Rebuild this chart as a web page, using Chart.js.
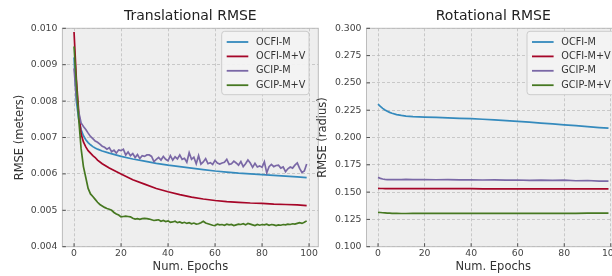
<!DOCTYPE html>
<html>
<head>
<meta charset="utf-8">
<script src="https://cdn.jsdelivr.net/npm/chart.js@4.4.0/dist/chart.umd.min.js"></script>
<style>
  html, body { margin: 0; padding: 0; background: #fff; overflow: hidden; }
  #wrap { position: relative; width: 612px; height: 276px; overflow: hidden; }
  canvas { position: absolute; top: 0; }
  #transChart { left: 0; }
  #rotChart { left: 310px; }
</style>
</head>
<body>
<div id="wrap">
  <canvas id="transChart" width="320" height="276"></canvas>
  <canvas id="rotChart" width="320" height="276"></canvas>
</div>
<script>
const seriesNames = ['OCFI-M', 'OCFI-M+V', 'GCIP-M', 'GCIP-M+V'];
const seriesColors = ['#348ABD', '#A60628', '#7A68A6', '#467821'];
const xTicks = [0, 20, 40, 60, 80, 100];
const transTicks = [0.004, 0.005, 0.006, 0.007, 0.008, 0.009, 0.010];
const rotTicks = [0.100, 0.125, 0.150, 0.175, 0.200, 0.225, 0.250, 0.275, 0.300];

// every epoch 0..99
const allEpochs = [];
for (let e = 0; e < 100; e++) allEpochs.push(e);

// smooth curves read at fewer epochs
const transEpochs = [0, 1, 2, 3, 4, 5, 6, 7, 8, 9, 10, 12, 15, 20, 25, 30, 35, 40, 45, 50, 55, 60, 65, 70, 75, 80, 85, 90, 95, 99];
const transOcfiM = [0.0092, 0.0080, 0.0075, 0.00722, 0.00705, 0.00694, 0.00686, 0.0068, 0.00675, 0.00671, 0.00668, 0.00663, 0.00657, 0.00648, 0.00641, 0.00635, 0.00629, 0.00624, 0.0062, 0.00616, 0.00612, 0.00608, 0.00605, 0.00602, 0.006, 0.00598, 0.00596, 0.00594, 0.00592, 0.0059];
const transOcfiMV = [0.0099, 0.0086, 0.0077, 0.0071, 0.00688, 0.00674, 0.00664, 0.00657, 0.0065, 0.00645, 0.00638, 0.00628, 0.00616, 0.006, 0.00584, 0.00572, 0.0056, 0.00551, 0.00543, 0.00536, 0.00531, 0.00527, 0.00524, 0.00522, 0.0052, 0.00519, 0.00517, 0.00516, 0.00515, 0.00513];
const transGcipM = [
  0.0089, 0.0081, 0.0077, 0.0074, 0.0073, 0.00722, 0.00712, 0.00703, 0.00697, 0.0069,
  0.00687, 0.00682, 0.00676, 0.00673, 0.00668, 0.00672, 0.00661, 0.00665, 0.00657, 0.00666,
  0.00664, 0.00668, 0.00652, 0.0066, 0.0065, 0.00656, 0.00645, 0.00653, 0.00642, 0.0065,
  0.00648, 0.00652, 0.00652, 0.00648, 0.00634, 0.0064, 0.00645, 0.00638, 0.00648, 0.0064,
  0.00636, 0.0065, 0.00638, 0.00647, 0.00641, 0.00652, 0.0064, 0.00643, 0.00632, 0.00658,
  0.0064, 0.00646, 0.00628, 0.0065, 0.00627, 0.00633, 0.00642, 0.00628, 0.00631, 0.00626,
  0.00637, 0.0063, 0.00627, 0.0063, 0.00632, 0.0064, 0.00626, 0.00628, 0.00635, 0.0063,
  0.00624, 0.00634, 0.0062, 0.00628, 0.00638, 0.0063, 0.00618, 0.00629, 0.00619, 0.00622,
  0.00618, 0.00633, 0.00603, 0.0062, 0.00626, 0.0062, 0.00623, 0.00624, 0.00616, 0.00619,
  0.00606, 0.00614, 0.00619, 0.00616, 0.00624, 0.0063, 0.00615, 0.00604, 0.00608, 0.00627
];
const transGcipMV = [
  0.0095, 0.0085, 0.0075, 0.0067, 0.0062, 0.0059, 0.0056, 0.00545, 0.00538, 0.0053,
  0.00522, 0.00516, 0.00512, 0.00508, 0.00505, 0.00503, 0.005, 0.00494, 0.0049, 0.00487,
  0.00482, 0.00483, 0.00484, 0.00483, 0.00482, 0.00478, 0.00476, 0.00477, 0.00475, 0.00477,
  0.00478, 0.00477, 0.00476, 0.00474, 0.00472, 0.00473, 0.00474, 0.0047, 0.00472, 0.00469,
  0.00471, 0.00467, 0.00468, 0.0047, 0.00466, 0.00468, 0.00465, 0.00467, 0.00464, 0.00466,
  0.00463, 0.00465, 0.00462, 0.00463, 0.00466, 0.0047, 0.00465, 0.00463, 0.00461, 0.00459,
  0.00458, 0.00462, 0.0046, 0.00461, 0.00459, 0.00462, 0.0046, 0.00461, 0.00458, 0.0046,
  0.00462, 0.00461, 0.00463, 0.0046, 0.00464, 0.00462, 0.0046, 0.00458, 0.00461, 0.00459,
  0.00461, 0.0046, 0.00462, 0.00459, 0.00461, 0.0046, 0.00458, 0.0046, 0.00459, 0.00461,
  0.0046, 0.00462, 0.00461, 0.00463, 0.00462, 0.00464, 0.00466, 0.00464, 0.00467, 0.00471
];

const rotEpochs = [0, 1, 2, 3, 4, 5, 6, 8, 10, 12, 15, 20, 25, 30, 35, 40, 45, 50, 55, 60, 65, 70, 75, 80, 85, 90, 95, 99];
const rotOcfiM = [0.2305, 0.2285, 0.2267, 0.2252, 0.224, 0.223, 0.2222, 0.221, 0.2202, 0.2196, 0.2191, 0.2187, 0.2184, 0.218, 0.2176, 0.2172, 0.2167, 0.2162, 0.2155, 0.2147, 0.214, 0.2132, 0.2124, 0.2116, 0.2108, 0.2099, 0.2091, 0.2085];
const rotOcfiMV = [0.1534, 0.1533, 0.1533, 0.1532, 0.1532, 0.1532, 0.1532, 0.1532, 0.1532, 0.1532, 0.1532, 0.1531, 0.1531, 0.1531, 0.1531, 0.1531, 0.153, 0.153, 0.153, 0.153, 0.153, 0.153, 0.153, 0.1529, 0.1529, 0.1529, 0.1529, 0.1529];
const rotGcipM = [0.1635, 0.1626, 0.162, 0.1617, 0.1615, 0.1614, 0.1614, 0.1615, 0.1614, 0.1616, 0.1614, 0.1615, 0.1613, 0.1615, 0.1612, 0.1613, 0.1611, 0.1612, 0.161, 0.1611, 0.1608, 0.161, 0.1607, 0.1609, 0.1604, 0.1606, 0.1601, 0.16];
const rotGcipMV = [0.1315, 0.1313, 0.1311, 0.131, 0.1308, 0.1307, 0.1306, 0.1305, 0.1304, 0.1304, 0.1305, 0.1305, 0.1305, 0.1305, 0.1306, 0.1306, 0.1306, 0.1306, 0.1306, 0.1306, 0.1306, 0.1306, 0.1306, 0.1306, 0.1306, 0.1307, 0.1307, 0.1307];

const FONT = 'DejaVu Sans';

function points(xs, ys) {
    return ys.map((y, i) => ({x: xs[i], y: y}));
}

// axes background, spines, inward ticks and the boxed legend
const bmhPlugin = {
    id: 'bmh',
    beforeDraw(chart) {
        const {ctx, chartArea: a} = chart;
        ctx.save();
        ctx.fillStyle = '#eeeeee';
        ctx.fillRect(a.left, a.top, a.right - a.left, a.bottom - a.top);
        ctx.restore();
    },
    afterDatasetsDraw(chart, args, opts) {
        const {ctx, chartArea: a} = chart;
        ctx.save();
        ctx.strokeStyle = '#bcbcbc';
        ctx.lineWidth = 1;
        ctx.strokeRect(a.left, a.top, a.right - a.left, a.bottom - a.top);

        ctx.strokeStyle = '#444';
        ctx.lineWidth = 0.9;
        let xs = chart.scales.x, ys = chart.scales.y;
        ctx.beginPath();
        xs.ticks.forEach(t => {
            let p = xs.getPixelForValue(t.value);
            ctx.moveTo(p, a.bottom);
            ctx.lineTo(p, a.bottom - 3.5);
        });
        ys.ticks.forEach(t => {
            let p = ys.getPixelForValue(t.value);
            ctx.moveTo(a.left, p);
            ctx.lineTo(a.left + 3.5, p);
        });
        ctx.stroke();

        // legend
        let w = 87.3, h = 63.4;
        let bx = a.right - opts.rightGap - w, by = a.top + 3;
        ctx.beginPath();
        ctx.roundRect(bx, by, w, h, 3);
        ctx.fillStyle = 'rgba(243,243,243,0.92)';
        ctx.fill();
        ctx.strokeStyle = '#cccccc';
        ctx.lineWidth = 1;
        ctx.stroke();
        ctx.font = '9.7px "' + FONT + '"';
        ctx.textBaseline = 'middle';
        ctx.textAlign = 'left';
        seriesNames.forEach((name, i) => {
            let ry = by + 10.7 + i * 14.4;
            ctx.strokeStyle = seriesColors[i];
            ctx.lineWidth = 1.8;
            ctx.beginPath();
            ctx.moveTo(bx + 5, ry);
            ctx.lineTo(bx + 26.6, ry);
            ctx.stroke();
            ctx.fillStyle = '#333';
            ctx.fillText(name, bx + 34.3, ry);
        });
        ctx.restore();
    }
};

function displayChart(id, title, yLabel, xsList, ysList, yMin, yMax, yTicks, yWidth, yTitlePad, padRight, legendGap) {
    let ctx = document.getElementById(id).getContext('2d');

    let datasets = ysList.map((ys, i) => ({
        label: seriesNames[i],
        data: points(xsList[i], ys),
        borderColor: seriesColors[i],
        borderWidth: 1.7,
        pointRadius: 0,
        tension: 0,
        fill: false,
        order: 4 - i,
    }));

    let gridOpts = {
        color: 'rgba(178,178,178,0.8)',
        lineWidth: 0.8,
        drawTicks: false,
    };

    return new Chart(ctx, {
        type: 'line',
        data: {datasets: datasets},
        plugins: [bmhPlugin],
        options: {
            responsive: false,
            animation: false,
            layout: {padding: {left: 0, top: 0, right: padRight, bottom: 0}},
            plugins: {
                legend: {display: false},
                tooltip: {enabled: false},
                bmh: {rightGap: legendGap},
                title: {
                    display: true,
                    fullSize: false,
                    text: title,
                    color: '#222',
                    font: {family: FONT, size: 14, weight: 'normal'},
                    padding: {top: 8.3, bottom: 3.2},
                },
            },
            scales: {
                x: {
                    type: 'linear',
                    min: -4.95,
                    max: 103.95,
                    afterBuildTicks: (s) => { s.ticks = xTicks.map(v => ({value: v})); },
                    afterFit: (s) => { s.height = 29.3; },
                    grid: gridOpts,
                    border: {display: false, dash: [3, 2]},
                    ticks: {
                        color: '#444',
                        padding: 1,
                        maxRotation: 0,
                        autoSkip: false,
                        font: {family: FONT, size: 9.3},
                        callback: (v) => String(v),
                    },
                    title: {
                        display: true,
                        text: 'Num. Epochs',
                        color: '#333',
                        font: {family: FONT, size: 11.5},
                        padding: {top: 0, bottom: 1.6},
                    },
                },
                y: {
                    type: 'linear',
                    min: yMin,
                    max: yMax,
                    afterBuildTicks: (s) => { s.ticks = yTicks.map(v => ({value: v})); },
                    afterFit: (s) => { s.width = yWidth; },
                    grid: gridOpts,
                    border: {display: false, dash: [3, 2]},
                    ticks: {
                        color: '#444',
                        padding: 5,
                        autoSkip: false,
                        font: {family: FONT, size: 9.3},
                        callback: (v) => v.toFixed(3),
                    },
                    title: {
                        display: true,
                        text: yLabel,
                        color: '#333',
                        font: {family: FONT, size: 11.5},
                        padding: {top: yTitlePad, bottom: 0},
                    },
                },
            },
        },
    });
}

displayChart('transChart', 'Translational RMSE', 'RMSE (meters)',
    [transEpochs, transEpochs, allEpochs, allEpochs],
    [transOcfiM, transOcfiMV, transGcipM, transGcipMV],
    0.004, 0.010, transTicks, 62.4, 13.6, 1.7, 9.3);

displayChart('rotChart', 'Rotational RMSE', 'RMSE (radius)',
    [rotEpochs, rotEpochs, rotEpochs, rotEpochs],
    [rotOcfiM, rotOcfiMV, rotGcipM, rotGcipMV],
    0.100, 0.300, rotTicks, 56.5, 6.1, 10, 5.7);
</script>
</body>
</html>
